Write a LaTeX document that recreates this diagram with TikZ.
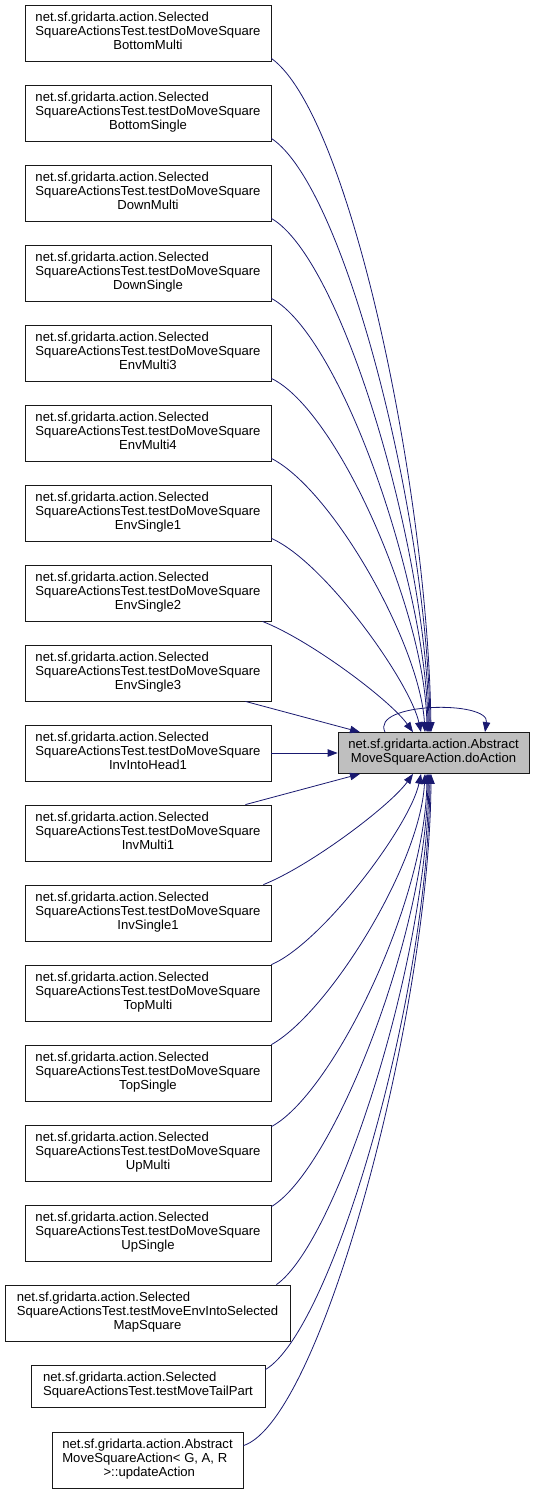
\documentclass[tikz,border=0pt]{standalone}
\usepackage{fontspec}
\setmainfont{Liberation Sans}
\usetikzlibrary{arrows.meta}
\definecolor{edgec}{RGB}{25,25,112}
\newcommand\lblthree[3]{\begin{tabular}{@{}l@{}}#1\\#2\\\multicolumn{1}{@{}c@{}}{#3}\end{tabular}}
\newcommand\lbltwo[2]{\begin{tabular}{@{}l@{}}#1\\\multicolumn{1}{@{}c@{}}{#2}\end{tabular}}
\begin{document}
\begin{tikzpicture}[x=1pt,y=-1pt,
  box/.style={draw=black!90, line width=0.8pt, fill=white, inner sep=0pt, minimum width=246pt, minimum height=56pt, font=\fontsize{13.1}{14}\selectfont},
  tgt/.style={box, fill=black!25, minimum width=191pt, minimum height=41pt},
  edge/.style={draw=edgec, line width=0.8pt, -{Triangle[length=10pt,width=7.5pt]}}]
\useasboundingbox (0,0) rectangle (535,1493);
\node[box] (b1) at (148,33) {\lblthree{net.sf.gridarta.action.Selected}{SquareActionsTest.testDoMoveSquare}{BottomMulti}};
\node[box] (b2) at (148,113) {\lblthree{net.sf.gridarta.action.Selected}{SquareActionsTest.testDoMoveSquare}{BottomSingle}};
\node[box] (b3) at (148,193) {\lblthree{net.sf.gridarta.action.Selected}{SquareActionsTest.testDoMoveSquare}{DownMulti}};
\node[box] (b4) at (148,273) {\lblthree{net.sf.gridarta.action.Selected}{SquareActionsTest.testDoMoveSquare}{DownSingle}};
\node[box] (b5) at (148,353) {\lblthree{net.sf.gridarta.action.Selected}{SquareActionsTest.testDoMoveSquare}{EnvMulti3}};
\node[box] (b6) at (148,433) {\lblthree{net.sf.gridarta.action.Selected}{SquareActionsTest.testDoMoveSquare}{EnvMulti4}};
\node[box] (b7) at (148,513) {\lblthree{net.sf.gridarta.action.Selected}{SquareActionsTest.testDoMoveSquare}{EnvSingle1}};
\node[box] (b8) at (148,593) {\lblthree{net.sf.gridarta.action.Selected}{SquareActionsTest.testDoMoveSquare}{EnvSingle2}};
\node[box] (b9) at (148,673) {\lblthree{net.sf.gridarta.action.Selected}{SquareActionsTest.testDoMoveSquare}{EnvSingle3}};
\node[box] (b10) at (148,753) {\lblthree{net.sf.gridarta.action.Selected}{SquareActionsTest.testDoMoveSquare}{InvIntoHead1}};
\node[box] (b11) at (148,833) {\lblthree{net.sf.gridarta.action.Selected}{SquareActionsTest.testDoMoveSquare}{InvMulti1}};
\node[box] (b12) at (148,913) {\lblthree{net.sf.gridarta.action.Selected}{SquareActionsTest.testDoMoveSquare}{InvSingle1}};
\node[box] (b13) at (148,993) {\lblthree{net.sf.gridarta.action.Selected}{SquareActionsTest.testDoMoveSquare}{TopMulti}};
\node[box] (b14) at (148,1073) {\lblthree{net.sf.gridarta.action.Selected}{SquareActionsTest.testDoMoveSquare}{TopSingle}};
\node[box] (b15) at (148,1153) {\lblthree{net.sf.gridarta.action.Selected}{SquareActionsTest.testDoMoveSquare}{UpMulti}};
\node[box] (b16) at (148,1233) {\lblthree{net.sf.gridarta.action.Selected}{SquareActionsTest.testDoMoveSquare}{UpSingle}};
\node[box, minimum width=285pt] (b17) at (147.5,1313) {\lblthree{net.sf.gridarta.action.Selected}{SquareActionsTest.testMoveEnvIntoSelected}{MapSquare}};
\node[box, minimum width=234pt, minimum height=42pt] (b18) at (148,1386) {\lbltwo{net.sf.gridarta.action.Selected}{SquareActionsTest.testMoveTailPart}};
\node[box, minimum width=191pt] (b19) at (147.5,1460) {\lblthree{net.sf.gridarta.action.Abstract}{MoveSquareAction< G, A, R}{\makebox[0pt][c]{\hspace{3.6pt}>::updateAction}}};
\node[tgt] (t) at (433.5,753) {\lbltwo{net.sf.gridarta.action.Abstract}{MoveSquareAction.doAction}};
% self loop
\draw[edge] ([xshift=-48.5pt]t.north) .. controls (370,702) and (490,700) .. ([xshift=51.5pt]t.north);
% upper edges
\draw[edge] ([yshift=3pt]b1.south east) .. controls (350,115) and (428,490) .. ([xshift=-2.5pt]t.north);
\draw[edge] ([yshift=3pt]b2.south east) .. controls (346,188) and (428,520) .. ([xshift=-3.5pt]t.north);
\draw[edge] ([yshift=3pt]b3.south east) .. controls (343,260) and (427,550) .. ([xshift=-4.5pt]t.north);
\draw[edge] ([yshift=3pt]b4.south east) .. controls (340,335) and (426,580) .. ([xshift=-5.5pt]t.north);
\draw[edge] ([yshift=3pt]b5.south east) .. controls (337,410) and (425,610) .. ([xshift=-6.5pt]t.north);
\draw[edge] ([yshift=3pt]b6.south east) .. controls (333,490) and (420,645) .. ([xshift=-8.5pt]t.north);
\draw[edge] ([yshift=3pt]b7.south east) .. controls (325,562) and (410,682) .. ([xshift=-12.5pt]t.north);
\draw[edge] ([xshift=-9pt]b8.south east) .. controls (310,640) and (390,700) .. ([xshift=-20.5pt]t.north);
\draw[edge] ([xshift=-26pt]b9.south east) -- ([xshift=-73.5pt]t.north);
\draw[edge] (b10.east) -- (t.west);
% lower edges
\draw[edge] ([xshift=-26pt]b11.north east) -- ([xshift=-73.5pt]t.south);
\draw[edge] ([xshift=-8pt]b12.north east) .. controls (310,866) and (390,806) .. ([xshift=-20.5pt]t.south);
\draw[edge] (b13.north east) .. controls (322,943) and (410,826) .. ([xshift=-12.5pt]t.south);
\draw[edge] (b14.north east) .. controls (328,1013) and (420,866) .. ([xshift=-8.5pt]t.south);
\draw[edge] ([yshift=-2pt]b15.north east) .. controls (331,1095) and (425,906) .. ([xshift=-6.5pt]t.south);
\draw[edge] ([yshift=-2pt]b16.north east) .. controls (333,1170) and (426,936) .. ([xshift=-5.5pt]t.south);
\draw[edge] ([xshift=-14pt]b17.north east) .. controls (336,1243) and (427,966) .. ([xshift=-4.5pt]t.south);
\draw[edge] ([yshift=-5pt]b18.north east) .. controls (332,1330) and (428,1000) .. ([xshift=-3.5pt]t.south);
\draw[edge] ([yshift=-14pt]b19.north east) .. controls (322,1420) and (430,1010) .. ([xshift=-2.5pt]t.south);
\end{tikzpicture}
\end{document}
